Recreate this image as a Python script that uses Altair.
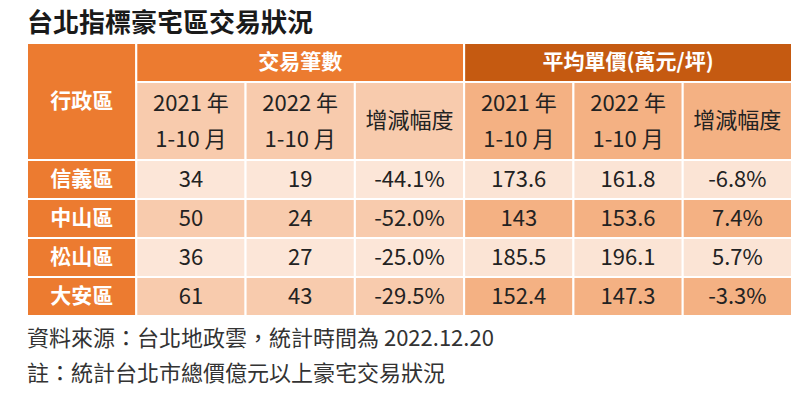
import altair as alt
import pandas as pd

title = "台北指標豪宅區交易狀況"
corner_header = "行政區"
group_headers = ["交易筆數", "平均單價(萬元/坪)"]
sub_headers = ["2021 年\n1-10 月", "2022 年\n1-10 月", "增減幅度"]
districts = ["信義區", "中山區", "松山區", "大安區"]
deals_2021 = [34, 50, 36, 61]
deals_2022 = [19, 24, 27, 43]
deals_change = [-44.1, -52.0, -25.0, -29.5]
price_2021 = [173.6, 143, 185.5, 152.4]
price_2022 = [161.8, 153.6, 196.1, 147.3]
price_change = [-6.8, 7.4, 5.7, -3.3]
notes = ["資料來源：台北地政雲，統計時間為 2022.12.20",
         "註：統計台北市總價億元以上豪宅交易狀況"]

ORANGE = "#EC7B30"
DARK_ORANGE = "#C55A11"
LEFT_SUB = "#F8CBAD"
RIGHT_SUB = "#F4B183"
LEFT_LIGHT = "#FCE6D8"
LEFT_DARK = "#F8CBAD"
RIGHT_LIGHT = "#FBE4D5"
RIGHT_DARK = "#F4B183"
FONT = "Noto Sans CJK TC"

cells = []


def add(c0, c1, r0, r1, label, fill, kind):
    cells.append(dict(x0=c0, x1=c1, y0=r0, y1=r1, xc=(c0 + c1) / 2,
                      yc=(r0 + r1) / 2, label=label, fill=fill, kind=kind))


# headers
add(0, 1, 0, 3, corner_header, ORANGE, "head")
add(1, 4, 0, 1, group_headers[0], ORANGE, "head")
add(4, 7, 0, 1, group_headers[1], DARK_ORANGE, "head")
for g in range(2):
    for j, s in enumerate(sub_headers):
        c = 1 + g * 3 + j
        kind = "multi" if "\n" in s else "data"
        add(c, c + 1, 1, 3, s, LEFT_SUB if g == 0 else RIGHT_SUB, kind)


def fmt_pct(v):
    return f"{v:.1f}%"


def fmt_num(v):
    return f"{v:g}"


for i, d in enumerate(districts):
    r = 3 + i
    add(0, 1, r, r + 1, d, ORANGE, "head")
    vals = [fmt_num(deals_2021[i]), fmt_num(deals_2022[i]), fmt_pct(deals_change[i]),
            fmt_num(price_2021[i]), fmt_num(price_2022[i]), fmt_pct(price_change[i])]
    for j, v in enumerate(vals):
        if j < 3:
            fill = LEFT_LIGHT if i % 2 == 0 else LEFT_DARK
        else:
            fill = RIGHT_LIGHT if i % 2 == 0 else RIGHT_DARK
        add(1 + j, 2 + j, r, r + 1, v, fill, "data")

df = pd.DataFrame(cells)

xs = alt.Scale(domain=[0, 7], nice=False, zero=False)
ys = alt.Scale(domain=[0, 7], nice=False, zero=False, reverse=True)

base = alt.Chart(df)

rects = base.mark_rect(stroke="white", strokeWidth=2).encode(
    x=alt.X("x0:Q", scale=xs, axis=None),
    x2="x1:Q",
    y=alt.Y("y0:Q", scale=ys, axis=None),
    y2="y1:Q",
    color=alt.Color("fill:N", scale=None),
)

enc = dict(
    x=alt.X("xc:Q", scale=xs, axis=None),
    y=alt.Y("yc:Q", scale=ys, axis=None),
    text="label:N",
)

head_text = base.transform_filter(alt.datum.kind == "head").mark_text(
    font=FONT, fontSize=21, fontWeight="bold", color="white",
    baseline="middle", align="center"
).encode(**enc)

data_text = base.transform_filter(alt.datum.kind == "data").mark_text(
    font=FONT, fontSize=22, color="#222222",
    baseline="middle", align="center"
).encode(**enc)

multi_text = base.transform_filter(alt.datum.kind == "multi").mark_text(
    font=FONT, fontSize=22, color="#222222", lineBreak="\n", lineHeight=36,
    baseline="middle", align="center", dy=-17
).encode(**enc)

title_text = alt.Chart(pd.DataFrame({"t": [title]})).mark_text(
    font=FONT, fontSize=26, fontWeight="bold", color="#1a1a1a",
    align="left", baseline="middle"
).encode(x=alt.value(0), y=alt.value(-19), text="t:N")

note1 = alt.Chart(pd.DataFrame({"t": [notes[0]]})).mark_text(
    font=FONT, fontSize=22, color="#333333", align="left", baseline="middle"
).encode(x=alt.value(0), y=alt.value(296), text="t:N")
note2 = alt.Chart(pd.DataFrame({"t": [notes[1]]})).mark_text(
    font=FONT, fontSize=22, color="#333333", align="left", baseline="middle"
).encode(x=alt.value(0), y=alt.value(331), text="t:N")

chart = alt.layer(rects, head_text, data_text, multi_text, title_text, note1, note2).properties(
    width=765, height=273,
    autosize="none",
    padding={"left": 19, "top": 35, "right": 10, "bottom": 83},
).configure_view(stroke=None).configure(background="white")

chart.save("out.html", embed_options={"renderer": "svg", "actions": False})
